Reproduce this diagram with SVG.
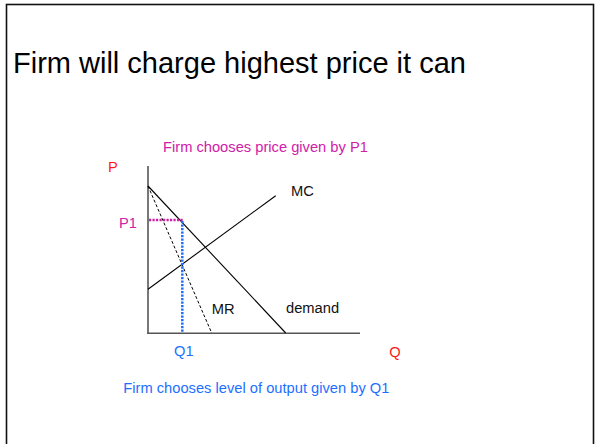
<svg xmlns="http://www.w3.org/2000/svg" width="595" height="444" viewBox="0 0 595 444">
<style>
text{font-family:"Liberation Sans",Arial,sans-serif;font-size:14.7px}
.ax{stroke:#555;stroke-width:1.6;fill:none}
.ln{stroke:#000;stroke-width:1.1;fill:none}
.mr{stroke:#000;stroke-width:1;fill:none;stroke-dasharray:3 2}
.red{fill:#FF1A1A}
.mag{fill:#D020A8}
.blu{fill:#1E6FFF}
.blk{fill:#111}
</style>
<rect x="0" y="0" width="595" height="444" fill="#fff"/>
<rect x="6.5" y="4.5" width="587" height="445" fill="none" stroke="#111" stroke-width="1.6"/>
<g id="title"><text x="13" y="73" style="font-size:29px" fill="#000">Firm will charge highest price it can</text></g>
<g id="connectors">
<line class="ax" x1="148" y1="166" x2="148" y2="334"/>
<line class="ax" x1="147.2" y1="333.3" x2="360" y2="333.3"/>
<line id="demand-line" class="ln" x1="148" y1="186" x2="285.7" y2="333"/>
<line id="mr-line" class="mr" x1="148" y1="186" x2="211.7" y2="333"/>
<line id="mc-line" class="ln" x1="148" y1="289.3" x2="275.7" y2="195.7"/>
<line id="p1-line" x1="149" y1="220" x2="183" y2="220" stroke="#D020A8" stroke-width="2.5" stroke-dasharray="2.2 1.3"/>
<line id="q1-line" x1="182.3" y1="221" x2="182.3" y2="332" stroke="#1E6FFF" stroke-width="2.5" stroke-dasharray="2.2 1.3"/>
</g>
<g id="label-price-title"><text class="mag" x="163" y="151.7">Firm chooses price given by P1</text></g>
<g id="label-P"><text class="red" x="108" y="172">P</text></g>
<g id="label-P1"><text class="mag" x="119" y="228.3">P1</text></g>
<g id="label-MC"><text class="blk" x="291" y="196">MC</text></g>
<g id="label-MR"><text class="blk" x="211.7" y="314">MR</text></g>
<g id="label-demand"><text class="blk" x="286" y="313.3">demand</text></g>
<g id="label-Q1"><text class="blu" x="174" y="355.7">Q1</text></g>
<g id="label-Q"><text class="red" x="389.3" y="357">Q</text></g>
<g id="label-output"><text class="blu" x="123.3" y="392.7">Firm chooses level of output given by Q1</text></g>
</svg>
